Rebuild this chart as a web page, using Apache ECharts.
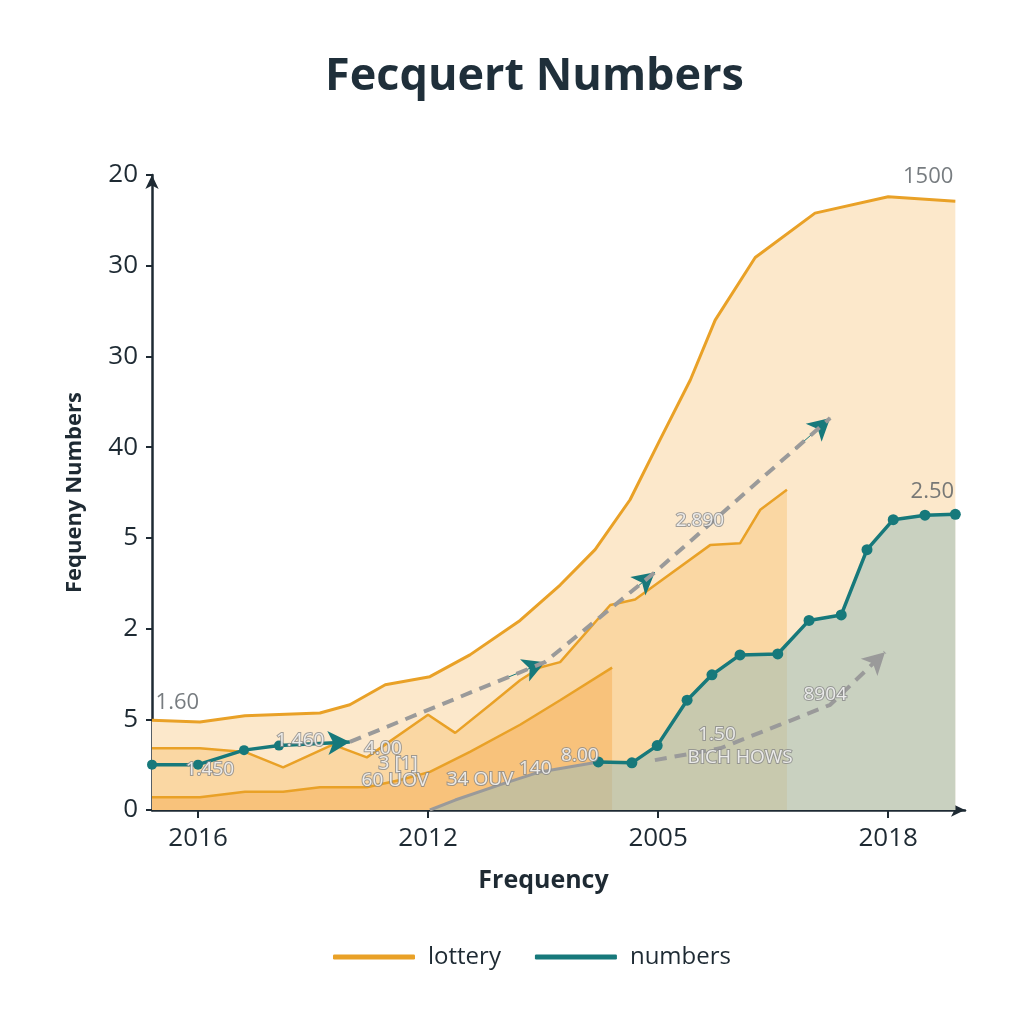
<!DOCTYPE html>
<html><head><meta charset="utf-8">
<script src="https://cdn.jsdelivr.net/npm/echarts@6/dist/echarts.min.js"></script>
<style>html,body{margin:0;padding:0;background:#fff}#c{width:1024px;height:1024px}</style>
</head><body><div id="c"></div>
<script>
const yTickLabels = ['0','5','2','5','40','30','30','20'];
const xTickValues = [1, 6, 11, 16];
const xTickLabels = ['2016','2012','2005','2018'];

const lotteryTop = [[0,0.99],[1.04,0.97],[2.02,1.04],[3.65,1.07],[4.3,1.16],[5.07,1.38],[6.04,1.47],[6.91,1.71],[8.0,2.09],[8.87,2.48],[9.63,2.87],[10.39,3.42],[11.04,4.08],[11.7,4.74],[12.24,5.40],[13.11,6.09],[14.41,6.58],[16.0,6.76],[17.46,6.71]];
const lotteryMid = [[0,0.68],[1.04,0.68],[2.02,0.64],[2.85,0.47],[3.93,0.72],[4.67,0.58],[6.0,1.05],[6.59,0.85],[7.35,1.16],[8.0,1.43],[8.43,1.57],[8.87,1.63],[9.96,2.26],[10.5,2.32],[12.13,2.92],[12.78,2.94],[13.22,3.31],[13.8,3.53]];
const lotteryLow = [[0,0.14],[1.04,0.14],[2.02,0.2],[2.85,0.2],[3.65,0.25],[4.67,0.25],[5.39,0.33],[6.04,0.42],[6.91,0.64],[8.0,0.94],[8.87,1.21],[10.0,1.57]];
const numbersLeft = [[0,0.5],[1.0,0.5],[2.0,0.66],[2.76,0.71]];
const numbersLeftArrowEnd = [4.3,0.75];
const numbersRise = [[6.04,0],[6.59,0.11],[7.57,0.28],[8.43,0.42],[9.7,0.53]];
const numbersRight = [[9.7,0.53],[10.43,0.52],[10.98,0.71],[11.63,1.21],[12.17,1.49],[12.78,1.71],[13.6,1.72],[14.28,2.09],[14.98,2.15],[15.54,2.87],[16.11,3.2],[16.8,3.25],[17.46,3.26]];
const trendUpper = [[4.3,0.75],[8.54,1.63],[10.93,2.62],[14.74,4.32]];
const trendLower = [[10.93,0.55],[12.35,0.68],[13.65,0.94],[14.74,1.16],[15.93,1.74]];

const plainNotes = [['1.60',0.55,1.18],['1500',16.87,6.98],['2.50',16.96,3.51]];
const outlineNotes = [['2.890',11.91,3.19],['1.460',3.22,0.76],['1.450',1.26,0.44],['4.00',5.02,0.68],['3 [1]',5.35,0.51],['60 UOV',5.28,0.32],['34 OUV',7.13,0.33],['140',8.33,0.46],['8.00',9.3,0.6],['1.50',12.28,0.83],['BICH HOWS',12.78,0.58],['8904',14.63,1.27]];

const ORANGE = '#e9a127', TEAL = '#17797b', GRAY = '#9a9a9a';

function arrowSeg(a, b, color, w) {
  const t = 0.8;
  const s = [a[0] + (b[0]-a[0])*t, a[1] + (b[1]-a[1])*t];
  return [{coord: s, lineStyle:{color, width:w, type:'solid'}}, {coord: b}];
}
const upperArrows = [];
for (let i = 1; i < trendUpper.length; i++) upperArrows.push(arrowSeg(trendUpper[i-1], trendUpper[i], TEAL, 1));
const lowerArrows = [arrowSeg(trendLower[trendLower.length-2], trendLower[trendLower.length-1], GRAY, 1)];

const chart = echarts.init(document.getElementById('c'));
chart.setOption({
  animation: false,
  backgroundColor: '#ffffff',
  title: { text: 'Fecquert Numbers', left: 320, top: 50,
    textStyle: { fontFamily: 'Open Sans', fontWeight: 'bold', fontSize: 45, color: '#1f2f3a' } },
  legend: { bottom: 50, left: 328, data: ['lottery','numbers'], icon: 'roundRect',
    itemWidth: 82, itemHeight: 5, itemGap: 34,
    textStyle: { fontFamily: 'Open Sans', fontSize: 24, color: '#1e2a33', padding: [0,0,0,8] } },
  grid: { left: 152, right: 59, top: 175, bottom: 214 },
  xAxis: { type: 'value', min: 0, max: 17.67,
    name: 'Frequency', nameLocation: 'middle', nameGap: 58,
    nameTextStyle: { fontFamily: 'Open Sans', fontWeight: 'bold', fontSize: 25, color: '#1e2a33', padding: [0,30,0,0] },
    axisLine: { show: true, symbol: ['none','arrow'], symbolSize: [10,14], lineStyle: { color: '#1e2a33', width: 2.5 } },
    axisTick: { show: true, customValues: xTickValues, length: 8, lineStyle: { color: '#1e2a33', width: 2 } },
    axisLabel: { customValues: xTickValues, formatter: v => xTickLabels[xTickValues.indexOf(v)], margin: 16,
      fontFamily: 'Open Sans', fontSize: 26, color: '#1e2a33' },
    splitLine: { show: false } },
  yAxis: { type: 'value', min: 0, max: 7, interval: 1,
    name: 'Fequeny Numbers', nameLocation: 'middle', nameGap: 66, nameRotate: 90,
    nameTextStyle: { fontFamily: 'Open Sans', fontWeight: 'bold', fontSize: 22, color: '#1e2a33' },
    axisLine: { show: true, symbol: ['none','arrow'], symbolSize: [10,14], lineStyle: { color: '#1e2a33', width: 2.5 } },
    axisTick: { show: true, length: 6, lineStyle: { color: '#1e2a33', width: 2 } },
    axisLabel: { formatter: v => yTickLabels[v], margin: 14, fontFamily: 'Open Sans', fontSize: 26, color: '#1e2a33' },
    splitLine: { show: false } },
  series: [
    { name: 'lottery', type: 'line', data: lotteryTop, symbol: 'none', z: 1,
      itemStyle: { color: ORANGE }, lineStyle: { color: ORANGE, width: 3 },
      areaStyle: { color: '#fce8cb', opacity: 1 } },
    { name: 'lotteryMid', type: 'line', data: lotteryMid, symbol: 'none', z: 2,
      lineStyle: { color: ORANGE, width: 2.5 }, areaStyle: { color: '#fad7a3', opacity: 1 } },
    { name: 'lotteryLow', type: 'line', data: lotteryLow, symbol: 'none', z: 3,
      lineStyle: { color: ORANGE, width: 2.5 }, areaStyle: { color: '#f8c27b', opacity: 1 } },
    { name: 'numbersArea', type: 'line', data: numbersRise.concat(numbersRight.slice(1)), symbol: 'none', z: 4,
      lineStyle: { width: 0 }, areaStyle: { color: '#9fbdb8', opacity: 0.55 } },
    { name: 'numbersRise', type: 'line', data: numbersRise, symbol: 'none', z: 5,
      lineStyle: { color: GRAY, width: 3 } },
    { name: 'trendUpper', type: 'line', data: trendUpper, symbol: 'none', z: 6,
      lineStyle: { color: GRAY, width: 4, type: [12, 8] },
      markLine: { silent: true, symbol: ['none','arrow'], symbolSize: [18,22], label: { show: false },
        data: upperArrows } },
    { name: 'trendLower', type: 'line', data: trendLower, symbol: 'none', z: 6,
      lineStyle: { color: GRAY, width: 4, type: [12, 8] },
      markLine: { silent: true, symbol: ['none','arrow'], symbolSize: [18,22], label: { show: false },
        data: lowerArrows } },
    { name: 'numbersLeft', type: 'line', data: numbersLeft, symbol: 'circle', symbolSize: 10, z: 7,
      itemStyle: { color: TEAL }, lineStyle: { color: TEAL, width: 3.5 },
      markLine: { silent: true, symbol: ['none','arrow'], symbolSize: [18,22], label: { show: false },
        data: [[{ coord: numbersLeft[numbersLeft.length-1], lineStyle: { color: TEAL, width: 3.5, type: 'solid' } }, { coord: numbersLeftArrowEnd }]] } },
    { name: 'numbers', type: 'line', data: numbersRight, symbol: 'circle', symbolSize: 11, z: 7,
      itemStyle: { color: TEAL }, lineStyle: { color: TEAL, width: 3.5 } },
    { name: 'plainNotes', type: 'scatter', symbolSize: 0, z: 9,
      data: plainNotes.map(n => ({ name: n[0], value: [n[1], n[2]] })),
      label: { show: true, position: 'inside', formatter: p => p.name,
        fontFamily: 'Open Sans', fontSize: 22, color: '#555b60' } },
    { name: 'outlineNotes', type: 'scatter', symbolSize: 0, z: 9,
      data: outlineNotes.map(n => ({ name: n[0], value: [n[1], n[2]] })),
      label: { show: true, position: 'inside', formatter: p => p.name,
        fontFamily: 'Open Sans', fontSize: 19, color: '#ffffff', textBorderColor: '#8a8a8a', textBorderWidth: 2 } }
  ]
});
</script></body></html>
